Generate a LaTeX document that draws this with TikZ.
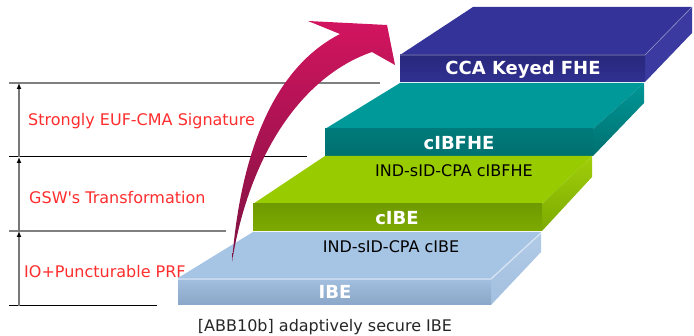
\documentclass[tikz,border=0pt]{standalone}
\usepackage{fontspec}
\setmainfont{DejaVu Sans}[Ligatures=TeXOff]
\usetikzlibrary{arrows.meta}
\definecolor{lblred}{RGB}{255,45,45}
\definecolor{linegray}{RGB}{128,128,128}
\definecolor{axisgray}{RGB}{120,120,120}
\definecolor{magtop}{RGB}{210,20,95}
\definecolor{magbot}{RGB}{125,18,65}
\definecolor{bluetop}{RGB}{166,196,228}
\definecolor{bluefrontA}{RGB}{164,192,224}
\definecolor{bluefrontB}{RGB}{138,166,200}
\definecolor{blueside}{RGB}{176,202,230}
\definecolor{greentop}{RGB}{153,204,0}
\definecolor{greenfrontA}{RGB}{112,154,0}
\definecolor{greenfrontM}{RGB}{150,200,0}
\definecolor{greenfrontB}{RGB}{125,170,0}
\definecolor{greenside}{RGB}{160,206,10}
\definecolor{tealtop}{RGB}{0,153,153}
\definecolor{tealfrontA}{RGB}{0,122,122}
\definecolor{tealfrontM}{RGB}{0,150,150}
\definecolor{tealfrontB}{RGB}{0,112,112}
\definecolor{tealside}{RGB}{0,150,150}
\definecolor{navytop}{RGB}{51,51,153}
\definecolor{navyfrontA}{RGB}{40,40,125}
\definecolor{navyfrontB}{RGB}{48,48,145}
\definecolor{navyside}{RGB}{58,58,160}
\tikzset{
  lbl/.style={text=lblred, anchor=west, inner sep=0pt, font=\fontsize{16}{19}\selectfont},
  slabtxt/.style={text=black, inner sep=0pt, font=\fontsize{16}{19}\selectfont},
  slabname/.style={text=white, inner sep=0pt, font=\bfseries\fontsize{18}{21}\selectfont},
  caption/.style={text=black!85, inner sep=0pt, font=\fontsize{16}{19}\selectfont},
  axis/.style={draw=axisgray, line width=1.3pt, -{Latex[length=6pt,width=5pt,color=black]}},
  hgray/.style={draw=linegray, line width=1.4pt},
  hblack/.style={draw=black, line width=1pt}
}
\begin{document}
\begin{tikzpicture}[x=1pt,y=-1pt]
\useasboundingbox (0,0) rectangle (694,336);
% horizontal rules
\coordinate (l1a) at (9,83);   \coordinate (l1b) at (380,83);
\coordinate (l2a) at (9,157);  \coordinate (l2b) at (307,157);
\coordinate (l3a) at (9,231);  \coordinate (l3b) at (226,231);
\coordinate (l4a) at (9,306);  \coordinate (l4b) at (157,306);
\draw[hgray] (l1a) -- (l1b);
\draw[hblack] (l2a) -- (l2b);
\draw[hgray] (l3a) -- (l3b);
\draw[hblack] (l4a) -- (l4b);
% vertical axis with arrows
\coordinate (v0) at (19,306);
\coordinate (v1) at (19,231);
\coordinate (v2) at (19,157);
\coordinate (v3) at (19,83);
\draw[axis] (v0) -- (v1);
\draw[axis] (v1) -- (v2);
\draw[axis] (v2) -- (v3);
% left labels
\node[lbl] (lblsig) at (28,121) {Strongly EUF-CMA Signature};
\node[lbl] (lblgsw) at (29,198) {GSW's Transformation};
\node[lbl] (lblio)  at (24,272) {IO+Puncturable PRF};
% navy slab
\fill[navytop] (400,55) -- (645,55) -- (692,7) -- (473,7) -- cycle;
\fill[navyside] (645,55) -- (692,7) -- (692,33) -- (645,82) -- cycle;
\shade[top color=navyfrontA, bottom color=navyfrontB] (400,55) rectangle (645,82);
\draw[white!45!navytop, line width=0.6pt] (400,55) -- (645,55) -- (692,7);
% teal slab
\fill[tealtop] (325,129) -- (593,129) -- (644,83) -- (400,83) -- cycle;
\shade[top color=tealside, bottom color=tealfrontB] (593,129) -- (644,83) -- (644,103) -- (593,156) -- cycle;
\shade[top color=tealfrontA, middle color=tealfrontM, bottom color=tealfrontB] (325,129) rectangle (593,156);
% green slab
\fill[greentop] (253,204) -- (542,204) -- (592,156) -- (325,156) -- cycle;
\shade[top color=greenside, bottom color=greenfrontB] (542,204) -- (592,156) -- (592,177) -- (542,231) -- cycle;
\shade[top color=greenfrontA, middle color=greenfrontM, bottom color=greenfrontB] (253,204) rectangle (542,231);
% blue slab
\fill[bluetop] (178,278) -- (491,278) -- (541,232) -- (253,232) -- cycle;
\shade[top color=blueside, bottom color=bluefrontA] (491,278) -- (541,232) -- (541,252) -- (491,305) -- cycle;
\shade[top color=bluefrontA, bottom color=bluefrontB] (178,278) rectangle (491,305);
\draw[white!55!bluetop, line width=1.2pt] (178,279) -- (491,279) -- (541,233);
% slab texts
\node[slabname] (ibe)    at (335,292) {IBE};
\node[slabtxt]  (cibecpa) at (391,247) {IND-sID-CPA cIBE};
\node[slabname] (cibe)   at (397,218) {cIBE};
\node[slabtxt]  (cibfhecpa) at (454,171) {IND-sID-CPA cIBFHE};
\node[slabname] (cibfhe) at (459,143) {cIBFHE};
\node[slabname] (ccafhe) at (523,70) {CCA Keyed FHE};
% big curved arrow
\shade[top color=magtop, middle color=magtop, bottom color=magbot]
  (232,262) .. controls (240,160) and (270,70) .. (340,34)
  -- (308,21) -- (387,25) -- (395,65) -- (372,52)
  .. controls (305,75) and (250,150) .. (232,262) -- cycle;
% caption
\node[caption] (cap) at (325,327) {[ABB10b] adaptively secure IBE};
\end{tikzpicture}
\end{document}
